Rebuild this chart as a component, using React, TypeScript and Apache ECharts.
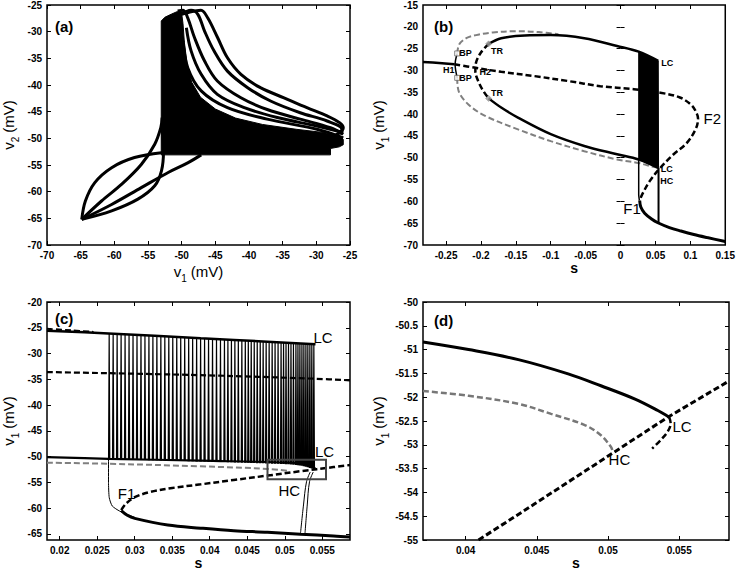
import React, { useEffect, useRef } from "react";
import * as echarts from "echarts";

const FONT = "'Liberation Sans', Arial, Helvetica, sans-serif";

// ---------------- Panel (a): v2 vs v1 ----------------
const aXTicks = [-70, -65, -60, -55, -50, -45, -40, -35, -30, -25];
const aYTicks = [-70, -65, -60, -55, -50, -45, -40, -35, -30, -25];
const aDense = [[-53.03, -28.0], [-52.5, -27.3], [-51.5, -26.7], [-50.6, -26.2], [-50.0, -26.6], [-49.8, -28.5], [-49.6, -32], [-49.2, -36], [-48.5, -39.5], [-47.2, -42.3], [-45, -44.5], [-42, -46.2], [-38, -47.4], [-33, -48.3], [-29, -48.9], [-26.5, -49.5], [-26.0, -50.2], [-26.0, -51.2], [-26.6, -51.6], [-27.9, -51.9], [-27.9, -53.1], [-53.03, -53.1]];
const aLoop1 = [[-52.0, -27.4], [-49.0, -26.4], [-47.13, -26.0], [-46.14, -27.4], [-44.67, -31.1], [-43.2, -34.9], [-41.2, -38.0], [-38.3, -40.5], [-34.8, -42.4], [-31.4, -44.25], [-28.4, -45.8], [-26.5, -47.1], [-26.0, -48.0], [-26.5, -48.9], [-28, -50]];
const aLoop2 = [[-51, -26.9], [-49.7, -26.4], [-48.6, -26.0], [-47.6, -26.75], [-46.6, -29.9], [-45.2, -33.6], [-43.2, -37.4], [-40.2, -40.5], [-36.8, -43.0], [-32.4, -45.2], [-28.4, -46.75], [-26.2, -48.3], [-26.4, -49.3]];
const aLoop3 = [[-50.6, -26.1], [-49.8, -26.0], [-49.1, -27.4], [-48.1, -31.1], [-46.6, -35.5], [-44.7, -39.25], [-41.2, -42.4], [-37.3, -44.6], [-32.4, -46.4], [-27.9, -48.0], [-26.0, -49.25]];
const aLoop4 = [[-49.3, -29.25], [-48.6, -33.6], [-47.1, -38.0], [-44.7, -41.75], [-40.7, -44.25], [-35.8, -46.1], [-29.9, -47.7], [-26.0, -48.9]];
const aLoop5 = [[-49.8, -31.75], [-49.1, -36.75], [-47.1, -41.1], [-43.2, -44.25], [-37.3, -46.4], [-29.9, -48.3], [-26.0, -49.9]];
const aLeafUpper = [[-64.84, -65.2], [-64.3, -61.75], [-62.9, -58.3], [-60.4, -55.5], [-57.0, -53.6], [-53.0, -52.7], [-49.1, -52.5], [-47.1, -52.7]];
const aLeafDiag = [[-64.84, -65.2], [-61.9, -61.75], [-58.9, -58.6], [-56.0, -54.9], [-54.0, -51.1], [-53.1, -48.0], [-52.9, -46.1]];
const aLeafStraight = [[-64.84, -65.2], [-60.4, -62.4], [-56.0, -59.25], [-52.0, -56.4], [-49.1, -54.6], [-47.1, -53.1]];
const aLeafLower = [[-64.84, -65.2], [-60.4, -63.6], [-56.5, -61.4], [-54.0, -58.9], [-53.0, -56.1], [-52.7, -52.4], [-52.9, -48.0]];

// ---------------- Panel (b): bifurcation diagram ----------------
const bXTicks = [-0.25, -0.2, -0.15, -0.1, -0.05, 0, 0.05, 0.1, 0.15];
const bYTicks = [-70, -65, -60, -55, -50, -45, -40, -35, -30, -25, -20, -15];
const bStableLeft = [[-0.283, -28.05], [-0.26, -28.3], [-0.238, -28.6]];
const bUnstableSS = [[-0.238, -28.6], [-0.208, -29.4], [-0.171, -30.3], [-0.123, -31.3], [-0.076, -32.4], [-0.029, -33.6], [0.019, -34.3], [0.057, -35.1], [0.085, -36.2], [0.102, -38.0], [0.109, -39.8], [0.111, -41.0], [0.108, -43.3], [0.095, -46.6], [0.076, -49.2], [0.057, -52.3], [0.042, -55.3], [0.031, -58.4], [0.0274, -59.8]];
const bLowerStable = [[0.0274, -59.8], [0.029, -61.3], [0.0345, -62.7], [0.045, -64.1], [0.0534, -64.9], [0.07, -66.0], [0.0865, -66.8], [0.105, -67.6], [0.124, -68.3], [0.15, -69.2]];
const bGrayTop = [[-0.234, -26.1], [-0.231, -24.0], [-0.221, -22.6], [-0.207, -21.9], [-0.183, -21.3], [-0.15, -21.0], [-0.117, -21.2], [-0.089, -21.7]];
const bGrayBottom = [[-0.234, -31.7], [-0.232, -34.7], [-0.218, -37.8], [-0.194, -40.4], [-0.147, -43.5], [-0.1, -46.2], [-0.052, -48.5], [-0.005, -50.4], [0.026, -51.2], [0.042, -51.9], [0.054, -52.3]];
const bHopfSeg = [[-0.234, -26.1], [-0.237, -28.6], [-0.234, -31.7]];
const bInnerDashed = [[-0.189, -23.9], [-0.2, -25.9], [-0.207, -28.2], [-0.208, -30.1], [-0.203, -32.8], [-0.195, -35.1], [-0.189, -36.4]];
const bUpperStable = [[-0.189, -23.9], [-0.171, -22.6], [-0.137, -22.0], [-0.1, -21.9], [-0.052, -22.6], [-0.005, -24.4], [0.026, -25.7], [0.054, -27.8]];
const bLowerPeriodic = [[-0.189, -36.4], [-0.171, -38.5], [-0.147, -40.8], [-0.1, -44.6], [-0.052, -47.3], [-0.005, -49.2], [0.026, -50.4], [0.054, -52.3]];
const bBurst = [[0.026, -25.7], [0.054, -27.8], [0.0544, -52.3], [0.026, -50.4]];
const bJumpLeft = [[0.026, -50.4], [0.026, -58.5], [0.027, -59.8]];
const bJumpRight = [[0.0544, -52.3], [0.0544, -65.0]];
const bBP = [[-0.234, -26.1], [-0.234, -31.7]];
const bTR = [[-0.189, -23.9], [-0.189, -36.4]];
const bSmallLabels: [string, number, number][] = [["BP", -0.222, -26.0], ["BP", -0.222, -31.7], ["H1", -0.246, -29.9], ["H2", -0.194, -30.35], ["TR", -0.177, -25.5], ["TR", -0.177, -35.2], ["LC", 0.067, -28.3], ["LC", 0.066, -52.5], ["HC", 0.066, -55.3]];
const bBigLabels: [string, number, number][] = [["F1", 0.0165, -61.7], ["F2", 0.1315, -40.9]];

// ---------------- Panel (c): enlargement ----------------
const cXTicks = [0.02, 0.025, 0.03, 0.035, 0.04, 0.045, 0.05, 0.055];
const cYTicks = [-65, -60, -55, -50, -45, -40, -35, -30, -25, -20];
const cTopSolid = [[0.0183, -25.6], [0.0265, -26.1], [0.0388, -27.05], [0.0477, -27.7], [0.0541, -28.2]];
const cTopDashed = [[0.0183, -25.2], [0.0215, -25.5], [0.0245, -25.8]];
const cMidDashed = [[0.0183, -33.6], [0.0388, -34.2], [0.0541, -34.9], [0.0587, -35.2]];
const cBottomSolid = [[0.0183, -50.1], [0.0265, -50.45], [0.0388, -50.8], [0.0521, -51.3], [0.0535, -51.8], [0.0541, -52.4]];
const cGrayDashed = [[0.0183, -51.2], [0.0265, -51.4], [0.0388, -51.9], [0.0477, -52.4], [0.0505, -52.8]];
const cRisingDashed = [[0.0282, -60.4], [0.0288, -59.2], [0.03, -57.9], [0.032, -56.9], [0.035, -56.1], [0.0388, -55.4], [0.0432, -54.55], [0.0477, -53.7], [0.0521, -52.85], [0.0565, -52.05], [0.0587, -51.65]];
const cLowerSolid = [[0.0282, -60.5], [0.029, -61.4], [0.03, -62.0], [0.0344, -63.3], [0.0388, -63.9], [0.0432, -64.4], [0.0477, -64.7], [0.0521, -65.1], [0.0565, -65.4], [0.0587, -65.6]];
const cDrop = [[0.0265, -50.4], [0.0265, -55.0], [0.0266, -58.0], [0.027, -59.6], [0.028, -60.6], [0.03, -61.8]];
const cReturn1 = [[0.0521, -64.9], [0.0525, -59.4], [0.0529, -54.9], [0.0534, -53.0]];
const cReturn2 = [[0.0527, -64.9], [0.053, -59.4], [0.0533, -54.9], [0.0538, -53.0]];
const spikeS = [0.02651, 0.02704, 0.02757, 0.0281, 0.02863, 0.02916, 0.02969, 0.03022, 0.03075, 0.03128,
  0.03181, 0.03234, 0.03287, 0.0334, 0.03393, 0.03446, 0.03499, 0.03552, 0.03605, 0.03658,
  0.03711, 0.03764, 0.03817, 0.0387, 0.03923, 0.03976, 0.04029, 0.04082, 0.04135, 0.04188,
  0.04234, 0.04281, 0.04327, 0.04373, 0.0442, 0.04466, 0.04506, 0.04545, 0.04585, 0.04625,
  0.04665, 0.04704, 0.04744, 0.04784, 0.04824, 0.04863, 0.04903, 0.04943, 0.04976, 0.05009,
  0.05042, 0.05075, 0.05108, 0.05141, 0.05168, 0.05194, 0.05221, 0.05247, 0.05274, 0.053,
  0.05327, 0.05353, 0.0538];
const spikeTop = [-26.1, -26.15, -26.2, -26.25, -26.3, -26.3, -26.35, -26.4, -26.45, -26.5,
  -26.5, -26.55, -26.6, -26.65, -26.7, -26.7, -26.75, -26.8, -26.85, -26.9,
  -26.9, -26.95, -27.0, -27.05, -27.1, -27.1, -27.15, -27.2, -27.25, -27.3,
  -27.3, -27.35, -27.4, -27.4, -27.45, -27.5, -27.5, -27.55, -27.6, -27.6,
  -27.65, -27.7, -27.7, -27.75, -27.8, -27.8, -27.85, -27.9, -27.9, -27.95,
  -28.0, -28.0, -28.0, -28.05, -28.1, -28.1, -28.1, -28.15, -28.15, -28.2,
  -28.2, -28.2, -28.25];
const spikeBot = [-50.45, -50.47, -50.5, -50.52, -50.55, -50.57, -50.6, -50.62, -50.65, -50.67,
  -50.7, -50.72, -50.74, -50.76, -50.78, -50.8, -50.82, -50.84, -50.86, -50.88,
  -50.9, -50.92, -50.94, -50.96, -50.98, -51.0, -51.02, -51.04, -51.06, -51.08,
  -51.1, -51.12, -51.14, -51.16, -51.18, -51.2, -51.22, -51.24, -51.26, -51.28,
  -51.3, -51.32, -51.34, -51.36, -51.38, -51.4, -51.42, -51.44, -51.46, -51.48,
  -51.5, -51.55, -51.6, -51.65, -51.7, -51.75, -51.8, -51.9, -52.0, -52.1,
  -52.2, -52.3, -52.4];
const cZoomBox = [0.0477, -50.6, 0.0555, -54.4];
const cLabels: [string, number, number][] = [["LC", 0.0551, -26.8], ["LC", 0.0553, -49.1], ["HC", 0.0506, -56.6], ["F1", 0.0289, -57.2]];

// ---------------- Panel (d): further enlargement ----------------
const dXTicks = [0.04, 0.045, 0.05, 0.055];
const dYTicks = [-55, -54.5, -54, -53.5, -53, -52.5, -52, -51.5, -51, -50.5, -50];
const dSolid = [[0.037, -50.84], [0.0402, -51.0], [0.0437, -51.21], [0.0472, -51.51], [0.0495, -51.76], [0.0519, -52.04], [0.0535, -52.28], [0.0543, -52.42]];
const dLCTail = [[0.0543, -52.42], [0.0544, -52.55], [0.0542, -52.72], [0.0537, -52.9], [0.0531, -53.08]];
const dGrayDashed = [[0.037, -51.87], [0.0402, -51.97], [0.0437, -52.14], [0.046, -52.35], [0.0484, -52.59], [0.0495, -52.8], [0.0502, -53.04], [0.0503, -53.11]];
const dDiagDashed = [[0.0409, -55.0], [0.0449, -54.23], [0.0503, -53.18], [0.0542, -52.42], [0.0585, -51.66]];
const dLabels: [string, number, number][] = [["LC", 0.0552, -52.62], ["HC", 0.0508, -53.3]];

const GRIDS = [
  { left: 45, top: 4, width: 305, height: 241 },
  { left: 423, top: 4, width: 305, height: 241 },
  { left: 45, top: 302, width: 305, height: 240 },
  { left: 423, top: 302, width: 306, height: 241 },
];

const tickLabel = { fontFamily: FONT, fontSize: 10, fontWeight: "bold", color: "#000" };

function vName(k: string) {
  return `{n|v}{s|${k}}{n| (mV)}`;
}
const nameStyle = {
  fontFamily: FONT,
  fontSize: 15,
  color: "#000",
  rich: {
    n: { fontFamily: FONT, fontSize: 15, color: "#000", verticalAlign: "top", lineHeight: 16 },
    s: { fontFamily: FONT, fontSize: 10, color: "#000", verticalAlign: "top", lineHeight: 10, padding: [9, 0, 0, 0] },
  },
};

function axes(g: number, xr: number[], xt: number[], yr: number[], yt: number[], xName: string, xRich: boolean, xGap: number, yName: string, yGap: number) {
  const tick = (vals: number[]) => ({ show: true, inside: true, length: 4, lineStyle: { color: "#000", width: 1 }, customValues: vals });
  const xBase = { type: "value", gridIndex: g, min: xr[0], max: xr[1], splitLine: { show: false }, axisLine: { show: false } };
  const yBase = { type: "value", gridIndex: g, min: yr[0], max: yr[1], splitLine: { show: false }, axisLine: { show: false } };
  const x = [
    {
      ...xBase, position: "bottom", axisTick: tick(xt), axisLabel: { ...tickLabel, margin: 5, customValues: xt },
      name: xName, nameLocation: "middle", nameGap: xGap,
      nameTextStyle: xRich ? nameStyle : { fontFamily: FONT, fontSize: 14, fontWeight: "bold", color: "#000" },
    },
    { ...xBase, position: "top", axisTick: tick(xt), axisLabel: { show: false } },
  ];
  const y = [
    {
      ...yBase, position: "left", axisTick: tick(yt), axisLabel: { ...tickLabel, margin: 5, customValues: yt },
      name: yName, nameLocation: "middle", nameGap: yGap, nameTextStyle: nameStyle,
    },
    { ...yBase, position: "right", axisTick: tick(yt), axisLabel: { show: false } },
  ];
  return { x, y };
}

function line(g: number, data: number[][], opts: { w?: number; color?: string; dash?: boolean; z?: number; smooth?: number } = {}) {
  return {
    type: "line", xAxisIndex: 2 * g, yAxisIndex: 2 * g, data, showSymbol: false, symbol: "none", silent: true,
    smooth: opts.smooth ?? 0.35,
    lineStyle: { color: opts.color || "#000", width: opts.w ?? 2.5, type: opts.dash ? [6, 3] : "solid", cap: "butt" },
    z: opts.z ?? 3,
  };
}

function polygon(g: number, pts: number[][], color: string) {
  return {
    type: "custom", xAxisIndex: 2 * g, yAxisIndex: 2 * g, data: [pts[0]], silent: true, z: 2,
    renderItem: (_p: any, api: any) => ({
      type: "polygon",
      shape: { points: pts.map((p) => api.coord(p)) },
      style: { fill: color, stroke: color, lineWidth: 1 },
    }),
  };
}

// text annotations placed in data coordinates
function textSeries(g: number, items: [string, number, number][], size: number, weight: string) {
  return {
    type: "custom", xAxisIndex: 2 * g, yAxisIndex: 2 * g, silent: true, z: 10, clip: false,
    data: items.map((t, i) => [t[1], t[2], i]),
    renderItem: (_p: any, api: any) => {
      const p = api.coord([api.value(0), api.value(1)]);
      const txt = items[api.value(2)][0];
      return {
        type: "text", x: p[0], y: p[1],
        style: { text: txt, fill: "#000", fontFamily: FONT, fontSize: size, fontWeight: weight, align: "center", verticalAlign: "middle" },
      };
    },
  };
}

function buildOption() {
  const A = axes(0, [-70, -25], aXTicks, [-70, -25], aYTicks, vName("1"), true, 19, vName("2"), 30);
  const B = axes(1, [-0.283, 0.15], bXTicks, [-70, -15], bYTicks, "s", false, 16, vName("1"), 36);
  const C = axes(2, [0.0183, 0.0587], cXTicks, [-66.2, -20], cYTicks, "s", false, 16, vName("1"), 30);
  const D = axes(3, [0.037, 0.0585], dXTicks, [-55, -50], dYTicks, "s", false, 16, vName("1"), 36);

  const spikeData = spikeS.map((s, i) => [s, spikeTop[i], spikeBot[i]]);

  const series: any[] = [
    // (a)
    polygon(0, aDense, "#000"),
    line(0, aLoop1, { w: 3 }), line(0, aLoop2, { w: 3 }), line(0, aLoop3, { w: 3 }), line(0, aLoop4, { w: 3 }), line(0, aLoop5, { w: 3 }),
    line(0, aLeafUpper, { w: 3 }), line(0, aLeafDiag, { w: 3 }), line(0, aLeafStraight, { w: 3 }), line(0, aLeafLower, { w: 3 }),
    // (b)
    polygon(1, bBurst, "#000"),
    line(1, bStableLeft, { w: 2.5 }),
    line(1, bUnstableSS, { w: 2.5, dash: true }),
    line(1, bLowerStable, { w: 3 }),
    line(1, bGrayTop, { w: 2, dash: true, color: "#808080" }),
    line(1, bGrayBottom, { w: 2, dash: true, color: "#808080" }),
    line(1, bHopfSeg, { w: 1.5 }),
    line(1, bInnerDashed, { w: 2.5, dash: true }),
    line(1, bUpperStable, { w: 2.5 }),
    line(1, bLowerPeriodic, { w: 2.5 }),
    line(1, bJumpLeft, { w: 1.5, smooth: 0.2 }),
    line(1, bJumpRight, { w: 2, smooth: 0 }),
    {
      type: "scatter", xAxisIndex: 2, yAxisIndex: 2, data: bBP, symbol: "rect", symbolSize: 5, silent: true, z: 6,
      itemStyle: { color: "#fff", borderColor: "#666", borderWidth: 1 },
    },
    {
      type: "scatter", xAxisIndex: 2, yAxisIndex: 2, data: bTR, symbol: "diamond", symbolSize: 6, silent: true, z: 6,
      itemStyle: { color: "#999", borderColor: "#666", borderWidth: 0.5 },
    },
    textSeries(1, bSmallLabels, 9, "bold"),
    textSeries(1, bBigLabels, 15, "normal"),
    // (c)
    {
      type: "custom", xAxisIndex: 4, yAxisIndex: 4, data: spikeData, silent: true, z: 2, encode: { x: 0, y: [1, 2] },
      renderItem: (_p: any, api: any) => {
        const s = api.value(0);
        const b = api.coord([s, api.value(2)]);
        const t = api.coord([s, api.value(1)]);
        return {
          type: "polyline",
          shape: { points: [b, [t[0] + 0.6, t[1]], [b[0] + 1.2, b[1]]] },
          style: { stroke: "#000", lineWidth: 1.2, fill: null },
        };
      },
    },
    line(2, cTopSolid, { w: 2.5 }),
    line(2, cTopDashed, { w: 2, dash: true }),
    line(2, cMidDashed, { w: 2.2, dash: true }),
    line(2, cBottomSolid, { w: 2.2 }),
    line(2, cGrayDashed, { w: 2, dash: true, color: "#808080" }),
    line(2, cRisingDashed, { w: 2.5, dash: true }),
    line(2, cLowerSolid, { w: 3 }),
    line(2, cDrop, { w: 1, smooth: 0.2 }),
    line(2, cReturn1, { w: 1 }),
    line(2, cReturn2, { w: 1 }),
    {
      type: "custom", xAxisIndex: 4, yAxisIndex: 4, data: [cZoomBox], silent: true, z: 8,
      renderItem: (_p: any, api: any) => {
        const p0 = api.coord([api.value(0), api.value(1)]);
        const p1 = api.coord([api.value(2), api.value(3)]);
        return {
          type: "rect",
          shape: { x: p0[0], y: p0[1], width: p1[0] - p0[0], height: p1[1] - p0[1] },
          style: { stroke: "#444", lineWidth: 2, fill: null },
        };
      },
    },
    textSeries(2, cLabels, 15, "normal"),
    // (d)
    line(3, dSolid, { w: 3 }),
    line(3, dLCTail, { w: 2.5, dash: true }),
    line(3, dGrayDashed, { w: 2.5, dash: true, color: "#777" }),
    line(3, dDiagDashed, { w: 3, dash: true, smooth: 0 }),
    textSeries(3, dLabels, 15, "normal"),
  ];

  const letter = (t: string, left: number, top: number) => ({
    type: "text", left, top, silent: true, z: 20,
    style: { text: t, fontFamily: FONT, fontSize: 15, fontWeight: "bold", fill: "#000" },
  });

  return {
    animation: false,
    backgroundColor: "#fff",
    grid: GRIDS.map((g) => ({ ...g, show: true, borderColor: "#000", borderWidth: 1.5, backgroundColor: "transparent", containLabel: false })),
    xAxis: [...A.x, ...B.x, ...C.x, ...D.x],
    yAxis: [...A.y, ...B.y, ...C.y, ...D.y],
    series,
    graphic: [letter("(a)", 55, 19), letter("(b)", 434, 19), letter("(c)", 55, 311), letter("(d)", 434, 313)],
  };
}

export default function App() {
  const ref = useRef<HTMLDivElement>(null);
  useEffect(() => {
    const chart = echarts.init(ref.current!, null, { renderer: "svg" });
    chart.setOption(buildOption() as any);
    return () => chart.dispose();
  }, []);
  return <div ref={ref} style={{ position: "absolute", left: 0, top: 0, width: 738, height: 571, background: "#fff" }} />;
}
